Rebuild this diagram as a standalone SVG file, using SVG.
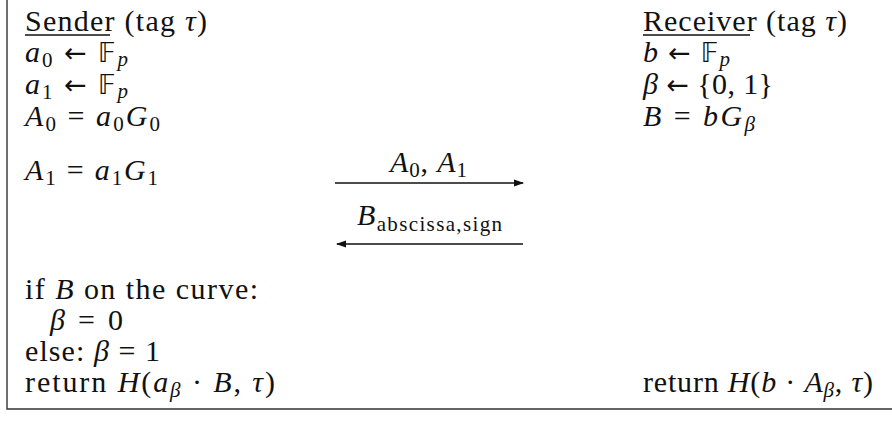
<svg xmlns="http://www.w3.org/2000/svg" width="892" height="425" viewBox="0 0 892 425">
<defs>
<style>
.t{font-family:"Liberation Serif","DejaVu Serif",serif;font-size:30px;fill:#111}
.i{font-style:italic}
.s{font-size:21px}
.bb{font-family:"DejaVu Sans","Noto Sans",sans-serif;font-size:26px}
.ar{font-family:"DejaVu Sans","Noto Sans",sans-serif;font-size:27px}
.ln{stroke:#111;stroke-width:1.3;fill:none}
.box{stroke:#333;stroke-width:1.4;fill:none}
</style>
<marker id="ah" viewBox="0 0 10 8" refX="9" refY="4" markerWidth="10" markerHeight="8" markerUnits="userSpaceOnUse" orient="auto">
<path d="M0,0.5 L10,4 L0,7.5 Z" fill="#111"/>
</marker>
</defs>
<rect x="0" y="0" width="892" height="425" fill="#fff"/>
<path class="box" d="M7,-2 V409 H894"/>

<g id="sender">
<text class="t" x="25" y="31" textLength="182" lengthAdjust="spacing">Sender (tag <tspan class="i">τ</tspan>)</text>
<line class="ln" x1="25" y1="35" x2="110" y2="35" stroke-width="1"/>
<text class="t" x="25" y="62" textLength="103" lengthAdjust="spacing"><tspan class="i">a</tspan><tspan class="s" dy="5">0</tspan><tspan dy="-5"> </tspan><tspan class="ar">←</tspan> <tspan class="bb">𝔽</tspan><tspan class="i s" dy="4">p</tspan></text>
<text class="t" x="25" y="94" textLength="103" lengthAdjust="spacing"><tspan class="i">a</tspan><tspan class="s" dy="5">1</tspan><tspan dy="-5"> </tspan><tspan class="ar">←</tspan> <tspan class="bb">𝔽</tspan><tspan class="i s" dy="4">p</tspan></text>
<text class="t" x="25" y="126" textLength="135" lengthAdjust="spacing"><tspan class="i">A</tspan><tspan class="s" dy="5">0</tspan><tspan dy="-5"> = </tspan><tspan class="i">a</tspan><tspan class="s" dy="5">0</tspan><tspan class="i" dy="-5">G</tspan><tspan class="s" dy="5">0</tspan></text>
<text class="t" x="25" y="180" textLength="133" lengthAdjust="spacing"><tspan class="i">A</tspan><tspan class="s" dy="5">1</tspan><tspan dy="-5"> = </tspan><tspan class="i">a</tspan><tspan class="s" dy="5">1</tspan><tspan class="i" dy="-5">G</tspan><tspan class="s" dy="5">1</tspan></text>
<text class="t" x="25" y="299" textLength="233" lengthAdjust="spacing">if <tspan class="i">B</tspan> on the curve:</text>
<text class="t" x="50" y="330" textLength="73" lengthAdjust="spacing"><tspan class="i">β</tspan> = 0</text>
<text class="t" x="25" y="361" textLength="135" lengthAdjust="spacing">else: <tspan class="i">β</tspan> = 1</text>
<text class="t" x="25" y="392" textLength="250" lengthAdjust="spacing">return <tspan class="i">H</tspan>(<tspan class="i">a</tspan><tspan class="i s" dy="5">β</tspan><tspan dy="-5"> · </tspan><tspan class="i">B</tspan>, <tspan class="i">τ</tspan>)</text>
</g>

<g id="receiver">
<text class="t" x="643" y="31" textLength="204" lengthAdjust="spacing">Receiver (tag <tspan class="i">τ</tspan>)</text>
<line class="ln" x1="643" y1="35" x2="750" y2="35" stroke-width="1"/>
<text class="t" x="643" y="62" textLength="87" lengthAdjust="spacing"><tspan class="i">b</tspan> <tspan class="ar">←</tspan> <tspan class="bb">𝔽</tspan><tspan class="i s" dy="4">p</tspan></text>
<text class="t" x="643" y="94" textLength="130" lengthAdjust="spacing"><tspan class="i">β</tspan> <tspan class="ar">←</tspan> {0, 1}</text>
<text class="t" x="643" y="126" textLength="112" lengthAdjust="spacing"><tspan class="i">B</tspan> = <tspan class="i">bG</tspan><tspan class="i s" dy="5">β</tspan></text>
<text class="t" x="643" y="392" textLength="230" lengthAdjust="spacing">return <tspan class="i">H</tspan>(<tspan class="i">b</tspan> · <tspan class="i">A</tspan><tspan class="i s" dy="5">β</tspan><tspan dy="-5">, </tspan><tspan class="i">τ</tspan>)</text>
</g>

<g id="connectors">
<line class="ln" x1="335" y1="183" x2="523" y2="183" marker-end="url(#ah)"/>
<text class="t" x="390" y="172" textLength="77" lengthAdjust="spacing"><tspan class="i">A</tspan><tspan class="s" dy="5">0</tspan><tspan dy="-5">, </tspan><tspan class="i">A</tspan><tspan class="s" dy="5">1</tspan></text>
<line class="ln" x1="523" y1="244" x2="337" y2="244" marker-end="url(#ah)"/>
<text class="t" x="357" y="225" textLength="145" lengthAdjust="spacing"><tspan class="i">B</tspan><tspan class="s" dy="6">abscissa,sign</tspan></text>
</g>
</svg>
